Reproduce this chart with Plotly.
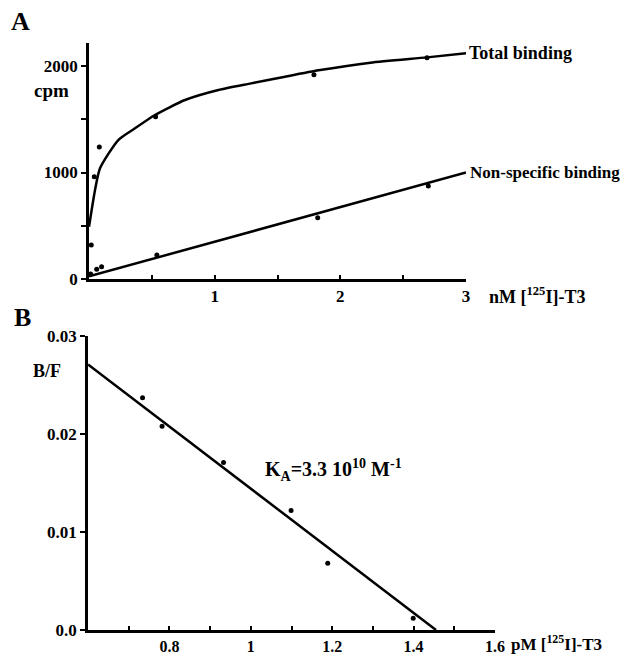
import plotly.graph_objects as go

# ---------------- Panel A data ----------------
total_x = [0.018, 0.042, 0.082, 0.53, 1.79, 2.69]
total_y = [320, 960, 1240, 1524, 1918, 2078]
total_fit_x = [0.0, 0.048, 0.0875, 0.233, 0.366, 0.525, 0.764, 1.03, 1.29, 1.56, 1.84, 2.24, 2.69, 3.0]
total_fit_y = [490, 836, 1039, 1305, 1415, 1540, 1681, 1775, 1837, 1900, 1962, 2031, 2081, 2119]

nonspec_x = [0.013, 0.061, 0.10, 0.54, 1.82, 2.70]
nonspec_y = [47, 91, 116, 225, 576, 873]
nonspec_fit_x = [0.0, 3.0]
nonspec_fit_y = [25, 1000]

a_xticks = [1, 2, 3]
a_xlabels = ["1", "2", "3"]
a_xminor = [0.5, 1.5, 2.5]
a_yticks = [0, 1000, 2000]
a_ylabels = ["0", "1000", "2000"]
a_yminor = [500, 1500]

# ---------------- Panel B data ----------------
scat_x = [0.734, 0.782, 0.933, 1.099, 1.189, 1.399]
scat_y = [0.0237, 0.0208, 0.0171, 0.0122, 0.0068, 0.0012]
scat_fit_x = [0.6, 1.455]
scat_fit_y = [0.0271, 0.0]

b_xticks = [0.8, 1.0, 1.2, 1.4, 1.6]
b_xlabels = ["0.8", "1", "1.2", "1.4", "1.6"]
b_xminor = [0.7, 0.9, 1.1, 1.3, 1.5]
b_yticks = [0, 0.01, 0.02, 0.03]
b_ylabels = ["0.0", "0.01", "0.02", "0.03"]

W, H, OFF = 632, 655, 8  # page body offset of the plot div


def px(x):
    return (x - OFF) / W


def py(y):
    return 1 - (y - OFF) / H


FONT = "Liberation Serif"
tick_font = dict(family=FONT, size=17, color="black", weight="bold")
line_style = dict(color="black", width=2.5)
dot_style = dict(color="black", size=5)

fig = go.Figure()

fig.add_trace(go.Scatter(x=total_fit_x, y=total_fit_y, mode="lines", line=dict(shape="spline", smoothing=0.6, **line_style),
                         xaxis="x", yaxis="y", cliponaxis=False, showlegend=False))
fig.add_trace(go.Scatter(x=total_x, y=total_y, mode="markers", marker=dot_style,
                         xaxis="x", yaxis="y", cliponaxis=False, showlegend=False))
fig.add_trace(go.Scatter(x=nonspec_fit_x, y=nonspec_fit_y, mode="lines", line=line_style,
                         xaxis="x", yaxis="y", cliponaxis=False, showlegend=False))
fig.add_trace(go.Scatter(x=nonspec_x, y=nonspec_y, mode="markers", marker=dot_style,
                         xaxis="x", yaxis="y", cliponaxis=False, showlegend=False))

fig.add_trace(go.Scatter(x=scat_fit_x, y=scat_fit_y, mode="lines", line=line_style,
                         xaxis="x2", yaxis="y2", cliponaxis=False, showlegend=False))
fig.add_trace(go.Scatter(x=scat_x, y=scat_y, mode="markers", marker=dot_style,
                         xaxis="x2", yaxis="y2", cliponaxis=False, showlegend=False))

axis_common = dict(showline=True, linewidth=2.5, linecolor="black", showgrid=False, zeroline=False,
                   tickcolor="black", tickwidth=2, automargin=False)


def xax(domain, rng, anchor, vals, labels, minor_vals, fsize):
    return dict(domain=domain, range=rng, anchor=anchor, tickmode="array", tickvals=vals, ticktext=labels,
                ticks="inside", ticklen=4,
                tickfont=dict(family=FONT, size=fsize, color="black", weight="bold"),
                minor=dict(tickmode="array", tickvals=minor_vals, ticks="inside", ticklen=4, tickwidth=2,
                           tickcolor="black", showgrid=False),
                **axis_common)


def yax(domain, rng, anchor, vals, labels, minor_vals):
    d = dict(domain=domain, range=rng, anchor=anchor, tickmode="array", tickvals=vals, ticktext=labels,
             ticks="outside", ticklen=5, tickfont=tick_font, **axis_common)
    if minor_vals:
        d["minor"] = dict(tickmode="array", tickvals=minor_vals, ticks="outside", ticklen=5, tickwidth=2,
                          tickcolor="black", showgrid=False)
    return d


fig.update_layout(
    width=W, height=H,
    margin=dict(l=0, r=0, t=0, b=0, autoexpand=False),
    paper_bgcolor="white", plot_bgcolor="white",
    xaxis=xax([px(89), px(466)], [0, 3], "y", a_xticks, a_xlabels, a_xminor, 17),
    yaxis=yax([py(279), py(43)], [0, 2216], "x", a_yticks, a_ylabels, a_yminor),
    xaxis2=xax([px(88), px(495)], [0.6, 1.6], "y2", b_xticks, b_xlabels, b_xminor, 16),
    yaxis2=yax([py(630), py(336)], [0, 0.03], "x2", b_yticks, b_ylabels, []),
)

lab_font = dict(family=FONT, size=18, color="black", weight="bold")
annots = [
    dict(text="Total binding", x=3.0, y=2119, xref="x", yref="y", xanchor="left", yanchor="middle", xshift=1, font=lab_font),
    dict(text="Non-specific binding", x=3.0, y=1000, xref="x", yref="y", xanchor="left", yanchor="middle", xshift=2,
         font=dict(family=FONT, size=17, color="black", weight="bold")),
    dict(text="cpm", x=px(51), y=py(90), xref="paper", yref="paper", xanchor="center", yanchor="middle", font=dict(family=FONT, size=19, color="black", weight="bold")),
    dict(text="A", x=px(20), y=py(22), xref="paper", yref="paper", xanchor="center", yanchor="middle", font=dict(family=FONT, size=26, color="black", weight="bold")),
    dict(text="B", x=px(22), y=py(317), xref="paper", yref="paper", xanchor="center", yanchor="middle", font=dict(family=FONT, size=26, color="black", weight="bold")),
    dict(text="B/F", x=px(47), y=py(371), xref="paper", yref="paper", xanchor="center", yanchor="middle", font=dict(family=FONT, size=18, color="black", weight="bold")),
    dict(text="nM [<sup>125</sup>I]-T3", x=px(487), y=py(295), xref="paper", yref="paper", xanchor="left", yanchor="middle", font=lab_font),
    dict(text="pM [<sup>125</sup>I]-T3", x=px(509), y=py(643), xref="paper", yref="paper", xanchor="left", yanchor="middle",
         font=dict(family=FONT, size=17, color="black", weight="bold")),
    dict(text="K<sub>A</sub>=3.3 10<sup>10</sup> M<sup>-1</sup>", x=1.03, y=0.0163, xref="x2", yref="y2", xanchor="left", yanchor="middle",
         font=dict(family=FONT, size=20, color="black", weight="bold")),
]
for a in annots:
    a["showarrow"] = False
fig.update_layout(annotations=annots)

fig.write_html("out.html")
